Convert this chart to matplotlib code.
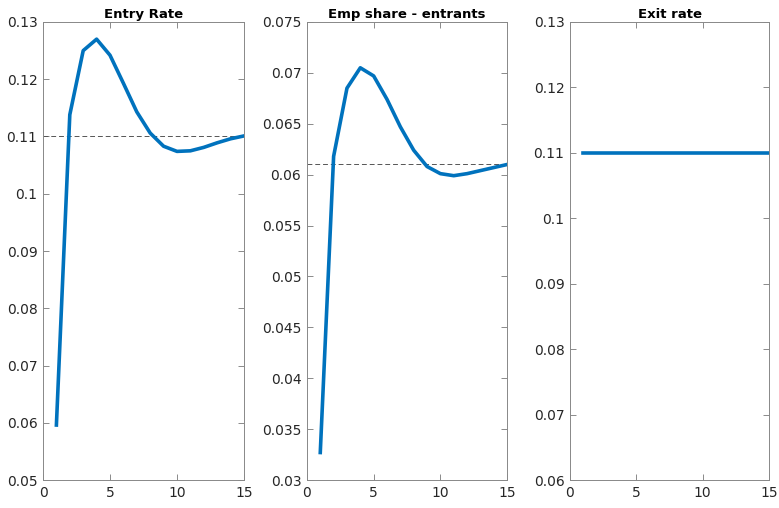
import numpy as np
import matplotlib
matplotlib.use("Agg")
import matplotlib.pyplot as plt

periods = np.arange(1, 16)
entry_rate = [0.0596, 0.1138, 0.1250, 0.1270, 0.1242, 0.1193, 0.1143, 0.1106,
              0.1083, 0.1074, 0.1075, 0.1081, 0.1089, 0.1096, 0.1101]
emp_share = [0.0327, 0.0618, 0.0685, 0.0705, 0.0697, 0.0674, 0.0647, 0.0624,
             0.0608, 0.0601, 0.0599, 0.0601, 0.0604, 0.0607, 0.0610]
exit_rate = [0.11] * 15
steady = [0.11, 0.061, None]

titles = ["Entry Rate", "Emp share - entrants", "Exit rate"]
ylims = [(0.05, 0.13), (0.03, 0.075), (0.06, 0.13)]
yticks = [np.arange(0.05, 0.1301, 0.01), np.arange(0.03, 0.0751, 0.005),
          np.arange(0.06, 0.1301, 0.01)]
series = [entry_rate, emp_share, exit_rate]
lefts = [0.0552, 0.394, 0.7317]
widths = [0.258, 0.257, 0.2555]

plt.rcParams['font.family'] = ['DejaVu Sans']
fig = plt.figure(figsize=(7.79, 5.08), dpi=100)

for i in range(3):
    ax = fig.add_axes([lefts[i], 0.0551, widths[i], 0.9016])
    if steady[i] is not None:
        ax.axhline(steady[i], color='#555555', lw=0.7, ls=(0, (5, 3)))
    ax.plot(periods, series[i], color='#0072BD', lw=2.6)
    ax.set_xlim(0, 15)
    ax.set_ylim(*ylims[i])
    ax.set_xticks([0, 5, 10, 15])
    ax.set_yticks(yticks[i])
    ax.set_yticklabels(['%g' % round(v, 4) for v in yticks[i]])
    ax.tick_params(direction='in', top=True, right=True, length=4, width=0.6,
                   color='#777777', labelsize=10, labelcolor='#262626', pad=4)
    for s in ax.spines.values():
        s.set_color('#888888')
        s.set_linewidth(0.7)
    ax.set_title(titles[i], fontsize=9.5, fontweight='bold', pad=3)

plt.savefig('out.png', dpi=100)
